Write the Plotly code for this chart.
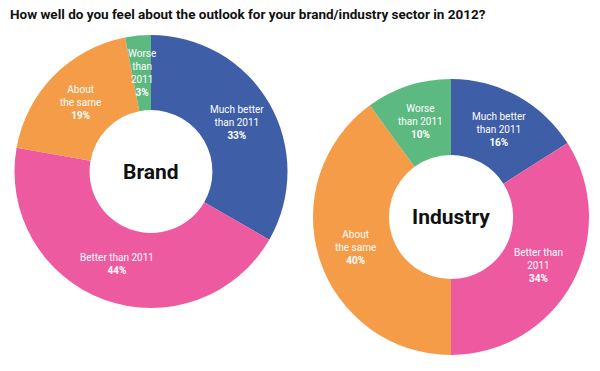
import math
import plotly.graph_objects as go

W, H = 600, 371

title_text = "How well do you feel about the outlook for your brand/industry sector in 2012?"

categories = ["Much better than 2011", "Better than 2011", "About the same", "Worse than 2011"]
colors = ["#3e5ea7", "#ee5a9f", "#f59c48", "#5cb97f"]

brand_values = [33, 44, 19, 3]
industry_values = [16, 34, 40, 10]

brand_label_lines = [["Much better", "than 2011"], ["Better than 2011"], ["About", "the same"], ["Worse", "than", "2011"]]
industry_label_lines = [["Much better", "than 2011"], ["Better than", "2011"], ["About", "the same"], ["Worse", "than 2011"]]

center_titles = ["Brand", "Industry"]

HOLE = 0.45
# domains in pixels (left, top, right, bottom)
domains_px = [(13, 35, 289, 308), (313, 78, 589, 356)]

fig = go.Figure()
annotations = []

FONT_LABEL = "Roboto"
FONT_HEAD = "Roboto"

for values, lines, name, dpx in zip([brand_values, industry_values],
                                     [brand_label_lines, industry_label_lines],
                                     center_titles, domains_px):
    l, t, r, b = dpx
    dom_x = [l / W, r / W]
    dom_y = [1 - b / H, 1 - t / H]
    fig.add_trace(go.Pie(
        labels=categories, values=values, sort=False, direction="clockwise",
        rotation=0, hole=HOLE, marker=dict(colors=colors, line=dict(width=0)),
        textinfo="none", hoverinfo="label+percent", showlegend=False,
        domain=dict(x=dom_x, y=dom_y),
    ))
    cx, cy = (l + r) / 2, (t + b) / 2
    R = min(r - l, b - t) / 2
    rl = R * (1 + HOLE) / 2
    total = sum(values)
    cum = 0
    for v, lab in zip(values, lines):
        mid = (cum + v / 2) / total * 2 * math.pi
        cum += v
        px = cx + rl * math.sin(mid)
        py = cy - rl * math.cos(mid)
        text = "<br>".join(lab + [f"<b>{v}%</b>"])
        annotations.append(dict(
            x=px / W, y=1 - py / H, xref="paper", yref="paper",
            text=text, showarrow=False, align="center",
            xanchor="center", yanchor="middle",
            font=dict(family=FONT_LABEL, size=10, color="white"),
        ))
    annotations.append(dict(
        x=cx / W, y=1 - cy / H, xref="paper", yref="paper",
        text=f"<b>{name}</b>", showarrow=False, xanchor="center", yanchor="middle",
        font=dict(family=FONT_HEAD, size=21, color="#111111"),
    ))

annotations.append(dict(
    x=8 / W, y=1 - 14 / H, xref="paper", yref="paper",
    text=f"<b>{title_text}</b>", showarrow=False, xanchor="left", yanchor="middle",
    font=dict(family=FONT_HEAD, size=13.5, color="#111111"),
))

fig.update_layout(
    width=W, height=H, margin=dict(l=0, r=0, t=0, b=0),
    paper_bgcolor="white", plot_bgcolor="white",
    annotations=annotations,
)

fig.write_html("out.html", config={"displayModeBar": False},
               post_script="document.body.style.margin='0';document.body.style.padding='0';")
